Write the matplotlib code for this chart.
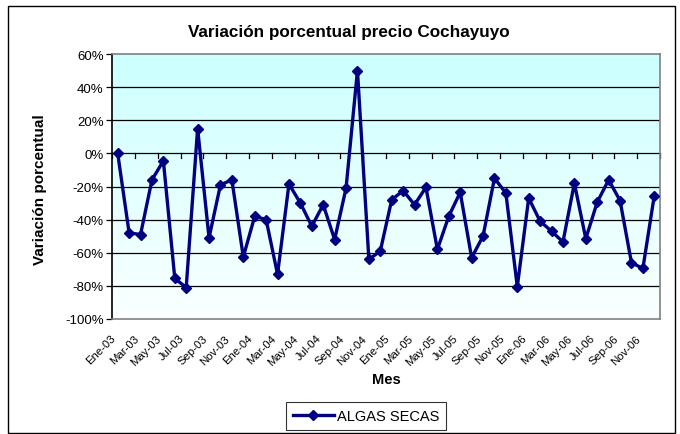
import matplotlib
matplotlib.use("Agg")
import matplotlib.pyplot as plt
import matplotlib.transforms as mtransforms
import numpy as np
from matplotlib.patches import Rectangle
from matplotlib.colors import LinearSegmentedColormap

plt.rcParams['font.family'] = ['Liberation Sans', 'DejaVu Sans']

meses = ["Ene", "Feb", "Mar", "Abr", "May", "Jun", "Jul", "Ago", "Sep", "Oct", "Nov", "Dic"]
anios = ["03", "04", "05", "06"]
etiquetas = [m + "-" + a for a in anios for m in meses]

algas_secas = [
    0, -48, -49, -16, -4.5, -75.5, -81, 15, -51, -19, -16, -62.5,
    -38, -40, -73, -18.5, -30, -44, -31, -52, -21, 50, -64, -59,
    -28, -22.5, -31, -20.5, -58, -38, -23.5, -63, -50, -15, -24, -80.5,
    -27, -41, -47, -53.5, -18, -51.5, -29.5, -16, -28.5, -66, -69.5, -25.5,
]

fig = plt.figure(figsize=(6.8, 4.35), dpi=100)
fig.patches.append(Rectangle((8 / 680, 1 / 435), 667 / 680, 427 / 435, transform=fig.transFigure,
                             fill=False, edgecolor="black", linewidth=1.0))
ax = fig.add_axes([112 / 680, 1 - 320 / 435, 548 / 680, 265 / 435])

x = np.arange(len(algas_secas))
ax.set_xlim(-0.5, len(algas_secas) - 0.5)
ax.set_ylim(-100, 60)

# fondo degradado
grad = np.linspace(0, 1, 256).reshape(-1, 1)
cm = LinearSegmentedColormap.from_list("g", ["#fbffff", "#ccffff"])
ax.imshow(grad, aspect="auto", cmap=cm, origin="lower",
          extent=[-0.5, len(algas_secas) - 0.5, -100, 60], zorder=0)

for yv in range(-80, 60, 20):
    ax.axhline(yv, color="black", linewidth=0.9, zorder=1)

ax.plot(x, algas_secas, color="#000080", linewidth=2.4, marker="D", markersize=5.5,
        label="ALGAS SECAS", zorder=3)

ax.set_yticks(range(-100, 61, 20))
ax.set_yticklabels([f"{v}%" for v in range(-100, 61, 20)], fontsize=9.5)
ax.set_xticks(x[::2])
ax.set_xticklabels(etiquetas[::2], rotation=45, ha="right", rotation_mode="anchor", fontsize=8.2)
ax.tick_params(axis="x", length=0, pad=10)
ax.tick_params(axis="y", length=4, width=0.9, color="black", pad=2)
desplazar = mtransforms.ScaledTranslation(-7 / 100, 0, fig.dpi_scale_trans)
for lbl in ax.get_xticklabels():
    lbl.set_transform(lbl.get_transform() + desplazar)

for s in ["top", "right", "bottom"]:
    ax.spines[s].set_color("#808080")
ax.spines["left"].set_color("black")
for s in ax.spines.values():
    s.set_linewidth(1.2)

# marcas en el eje 0
for xt in np.arange(-0.5, len(algas_secas), 2):
    ax.plot([xt, xt], [0, -2.5], color="black", linewidth=0.9, zorder=2, clip_on=False)

fig.text(349 / 680, 1 - 33 / 435, "Variación porcentual precio Cochayuyo", ha="center", va="center",
         fontsize=12.3, fontweight="bold")
fig.text(386 / 680, 1 - 380 / 435, "Mes", ha="center", va="center", fontsize=10.5, fontweight="bold")
fig.text(40 / 680, 1 - 190 / 435, "Variación porcentual", ha="center", va="center", rotation=90,
         fontsize=11, fontweight="bold")

leg = fig.legend(loc="center", bbox_to_anchor=(366 / 680, 1 - 417 / 435), fontsize=10.5,
                 frameon=True, fancybox=False, edgecolor="black", handlelength=2.8,
                 borderpad=0.45, handletextpad=0.2)
leg.get_frame().set_linewidth(0.8)

fig.savefig("out.png", dpi=100)
